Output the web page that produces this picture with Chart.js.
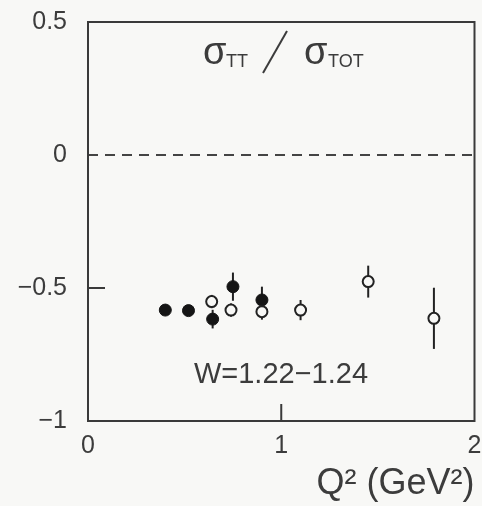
<!DOCTYPE html>
<html>
<head>
<meta charset="utf-8">
<script src="https://cdn.jsdelivr.net/npm/chart.js@4/dist/chart.umd.min.js"></script>
<style>
  html, body { margin: 0; padding: 0; background: #f8f8f6; }
  #wrap { width: 482px; height: 506px; }
</style>
</head>
<body>
<div id="wrap"><canvas id="ratioChart" width="482" height="506"></canvas></div>
<script>
// Q^2 values and sigma_TT / sigma_TOT ratios, two measurement sets
const filledQ2 = [0.40, 0.52, 0.645, 0.75, 0.90];
const filledRatio = [-0.583, -0.585, -0.617, -0.495, -0.545];
const filledErr = [0.015, 0.015, 0.035, 0.053, 0.05];

const openQ2 = [0.64, 0.74, 0.90, 1.10, 1.45, 1.79];
const openRatio = [-0.551, -0.583, -0.589, -0.583, -0.476, -0.614];
const openErr = [0.025, 0.025, 0.03, 0.038, 0.06, 0.115];

const yTicks = [-1, -0.5, 0, 0.5];
const xTicks = [0, 1, 2];
const zeroLine = [0, 2];

const ink = "#222";
const textColor = "#3c3c3c";
const fontFamily = "'Liberation Sans', Arial, sans-serif";

const toPoints = (xs, ys) => xs.map((x, i) => ({ x: x, y: ys[i] }));

// background, error bars, frame, inner tick marks and text labels
const decorations = {
  id: "decorations",
  beforeDraw(chart) {
    const c = chart.ctx;
    c.save();
    c.fillStyle = "#f8f8f6";
    c.fillRect(0, 0, chart.width, chart.height);
    c.restore();
  },
  beforeDatasetsDraw(chart) {
    const c = chart.ctx;
    const xs = chart.scales.x;
    const ys = chart.scales.y;
    c.save();
    c.strokeStyle = ink;
    c.lineWidth = 2;
    chart.data.datasets.forEach((ds) => {
      if (!ds.errors) return;
      ds.data.forEach((p, i) => {
        const px = xs.getPixelForValue(p.x);
        c.beginPath();
        c.moveTo(px, ys.getPixelForValue(p.y - ds.errors[i]));
        c.lineTo(px, ys.getPixelForValue(p.y + ds.errors[i]));
        c.stroke();
      });
    });
    c.restore();
  },
  afterDraw(chart) {
    const c = chart.ctx;
    const a = chart.chartArea;
    const xs = chart.scales.x;
    const ys = chart.scales.y;
    c.save();
    c.strokeStyle = "#3a3a3a";
    c.lineWidth = 2;
    c.strokeRect(a.left, a.top, a.right - a.left, a.bottom - a.top);
    // inner ticks
    c.beginPath();
    const tx = xs.getPixelForValue(1);
    c.moveTo(tx, a.bottom);
    c.lineTo(tx, a.bottom - 17);
    const ty = ys.getPixelForValue(-0.5);
    c.moveTo(a.left, ty);
    c.lineTo(a.left + 17, ty);
    c.stroke();

    // title sigma_TT / sigma_TOT
    c.fillStyle = textColor;
    c.textBaseline = "alphabetic";
    c.textAlign = "left";
    c.font = "38px " + fontFamily;
    c.fillText("σ", 203, 64);
    c.font = "18px " + fontFamily;
    c.fillText("TT", 226, 67);
    c.font = "38px " + fontFamily;
    c.fillText("σ", 304, 64);
    c.font = "18px " + fontFamily;
    c.fillText("TOT", 328, 67);
    c.strokeStyle = textColor;
    c.lineWidth = 2;
    c.beginPath();
    c.moveTo(263, 73);
    c.lineTo(287, 31);
    c.stroke();

    // kinematic range label
    c.font = "29px " + fontFamily;
    c.textAlign = "center";
    c.fillText("W=1.22\u22121.24", 281, 383);
    c.restore();
  }
};

new Chart(document.getElementById("ratioChart"), {
  type: "scatter",
  data: {
    datasets: [
      {
        type: "line",
        data: toPoints(zeroLine, [0, 0]),
        borderColor: "#444",
        borderWidth: 2,
        borderDash: [10, 7],
        pointRadius: 0,
        fill: false
      },
      {
        data: toPoints(openQ2, openRatio),
        errors: openErr,
        pointStyle: "circle",
        pointRadius: 5.5,
        pointBorderWidth: 2,
        pointBackgroundColor: "#f8f8f6",
        pointBorderColor: ink
      },
      {
        data: toPoints(filledQ2, filledRatio),
        errors: filledErr,
        pointStyle: "circle",
        pointRadius: 6,
        pointBorderWidth: 1,
        pointBackgroundColor: "#151515",
        pointBorderColor: "#151515"
      }
    ]
  },
  options: {
    responsive: false,
    animation: false,
    layout: { padding: { top: 22, right: 5, left: 0, bottom: 0 } },
    plugins: {
      legend: { display: false },
      tooltip: { enabled: false }
    },
    scales: {
      x: {
        type: "linear",
        min: 0,
        max: 2,
        afterBuildTicks: (s) => { s.ticks = xTicks.map((v) => ({ value: v })); },
        afterFit: (s) => {
          s.height = 85;
          s.paddingLeft = 0;
          s.paddingRight = 0;
        },
        grid: { display: false, drawTicks: false },
        border: { display: false },
        ticks: {
          color: textColor,
          padding: 10,
          maxRotation: 0,
          font: { family: fontFamily, size: 25 },
          callback: (v) => String(v)
        },
        title: {
          display: true,
          align: "end",
          text: "Q\u00B2 (GeV\u00B2)",
          color: textColor,
          padding: { top: 4, bottom: 0 },
          font: { family: fontFamily, size: 36 }
        }
      },
      y: {
        type: "linear",
        min: -1,
        max: 0.5,
        afterBuildTicks: (s) => { s.ticks = yTicks.map((v) => ({ value: v })); },
        afterFit: (s) => {
          s.width = 88;
          s.paddingTop = 0;
          s.paddingBottom = 0;
        },
        grid: { display: false, drawTicks: false },
        border: { display: false },
        ticks: {
          color: textColor,
          padding: 21,
          font: { family: fontFamily, size: 25 },
          callback: (v) => String(v).replace("-", "\u2212")
        }
      }
    }
  },
  plugins: [decorations]
});
</script>
</body>
</html>
